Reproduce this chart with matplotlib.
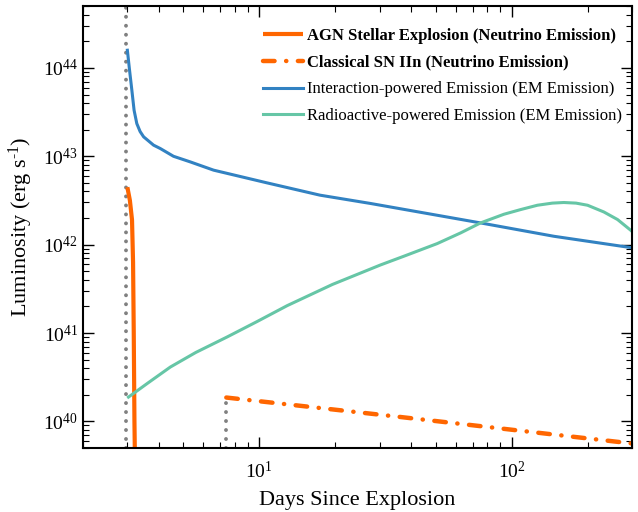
import numpy as np
import matplotlib
matplotlib.use("Agg")
import matplotlib.pyplot as plt

plt.rcParams['font.family'] = ['Liberation Serif', 'DejaVu Serif']
plt.rcParams['mathtext.fontset'] = 'custom'
plt.rcParams['mathtext.rm'] = 'Liberation Serif'
plt.rcParams['mathtext.it'] = 'Liberation Serif:italic'
plt.rcParams['mathtext.bf'] = 'Liberation Serif:bold'

# ---- data ----
agn_t = [3.0, 3.07, 3.13, 3.16, 3.18, 3.2, 3.22]
agn_logL = [42.65, 42.5, 42.28, 41.8, 41.0, 40.0, 39.4]

sn_t = [7.4, 36.2, 300.0]
sn_logL = [40.27, 40.05, 39.75]

blue_t = [3.0, 3.06, 3.125, 3.19, 3.27, 3.37, 3.48, 3.81, 4.05, 4.57, 5.32, 6.59,
          10.7, 17.4, 27.6, 75.3, 147.0, 296.5, 300.0]
blue_logL = [44.20, 43.975, 43.749, 43.52, 43.37, 43.28, 43.22, 43.126, 43.088, 43.0, 42.937, 42.843,
             42.70, 42.56, 42.466, 42.246, 42.095, 41.967, 41.965]

green_t = [3.03, 3.6, 4.44, 5.6, 7.45, 9.8, 12.9, 19.5, 30.2, 37.4, 50.7, 62.8, 75.3,
           93.2, 108.6, 126.5, 145.0, 161.0, 180.0, 200.0, 232.0, 263.0, 296.5, 300.0]
green_logL = [40.275, 40.43, 40.615, 40.78, 40.955, 41.13, 41.31, 41.55, 41.77, 41.869, 42.012,
              42.133, 42.246, 42.344, 42.397, 42.446, 42.47, 42.477, 42.47, 42.446, 42.37,
              42.284, 42.163, 42.15]

explosion_day = 2.97
sn_day = 7.4

labels = ["AGN Stellar Explosion (Neutrino Emission)",
          "Classical SN IIn (Neutrino Emission)",
          "Interaction-powered Emission (EM Emission)",
          "Radioactive-powered Emission (EM Emission)"]

orange = '#FF6600'
blue = '#3282C2'
green = '#66C6A6'
gray = '#808080'

fig = plt.figure(figsize=(6.38, 5.12), dpi=100)
ax = fig.add_axes([0.130, 0.125, 0.8606, 0.863])

ax.set_xscale('log')
ax.set_yscale('log')
ax.set_xlim(2, 300)
ax.set_ylim(5e39, 5e44)

ax.plot(agn_t, 10**np.array(agn_logL), color=orange, lw=3.0, label=labels[0],
        solid_capstyle='butt')
ax.plot(sn_t, 10**np.array(sn_logL), color=orange, lw=3.2, label=labels[1],
        dashes=(2.6, 2.6, 0.05, 2.6), dash_capstyle='round')
ax.plot(blue_t, 10**np.array(blue_logL), color=blue, lw=2.2, label=labels[2],
        solid_joinstyle='round')
ax.plot(green_t, 10**np.array(green_logL), color=green, lw=2.2, label=labels[3],
        solid_joinstyle='round')

ax.plot([explosion_day, explosion_day], [5e39, 5e44], color=gray, lw=2.8,
        dashes=(0.01, 2.3), dash_capstyle='round', zorder=1)
ax.plot([sn_day, sn_day], [5e39, 10**sn_logL[0]], color=gray, lw=2.8,
        dashes=(0.01, 2.3), dash_capstyle='round', zorder=1)

ax.tick_params(which='both', direction='in', top=True, right=True, labelsize=14)
ax.tick_params(which='major', length=8, width=1.0)
ax.tick_params(which='minor', length=4, width=0.8)
ax.tick_params(axis='x', which='major', pad=9)
ax.yaxis.set_major_locator(matplotlib.ticker.LogLocator(base=10, numticks=20))
ax.yaxis.set_minor_locator(matplotlib.ticker.LogLocator(base=10, subs=np.arange(2, 10), numticks=20))
for s in ax.spines.values():
    s.set_linewidth(1.5)

ax.set_xlabel('Days Since Explosion', fontsize=16, labelpad=7)
ax.set_ylabel('Luminosity (erg s$^{\\text{-}1}$)', fontsize=16, labelpad=6)

leg = ax.legend(loc='upper right', bbox_to_anchor=(1.022, 1.0), frameon=False,
                fontsize=12, handlelength=2.4, handletextpad=0.25, labelspacing=0.65,
                borderaxespad=0.9, borderpad=0.4)
for i, t in enumerate(leg.get_texts()):
    if i < 2:
        t.set_fontweight('bold')

fig.savefig('out.png', dpi=100)
